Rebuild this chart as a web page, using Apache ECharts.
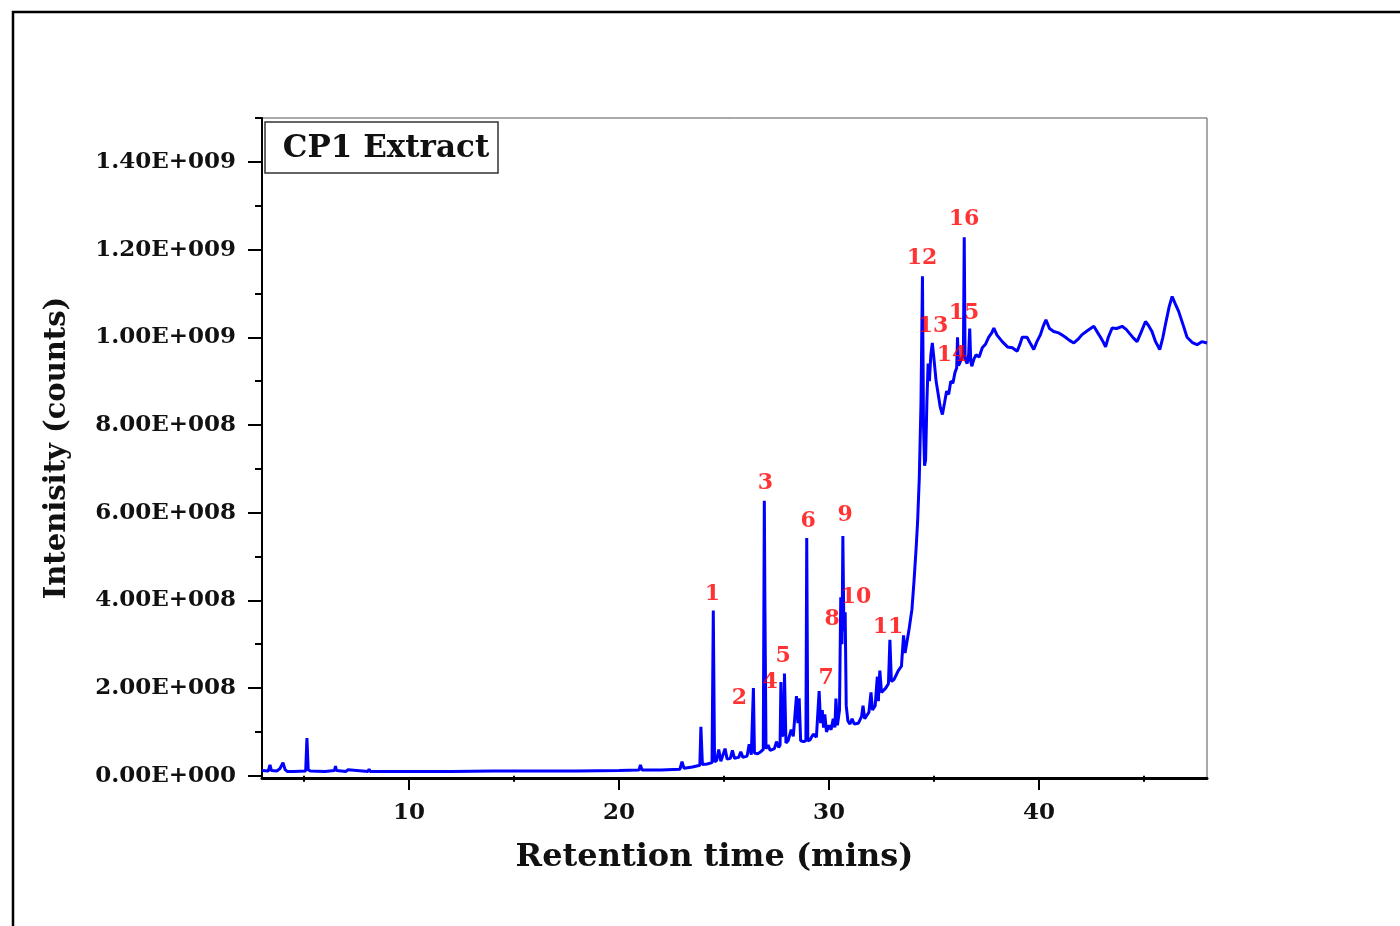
<!DOCTYPE html>
<html>
<head>
<meta charset="utf-8">
<script src="https://cdn.jsdelivr.net/npm/echarts@6/dist/echarts.min.js"></script>
<style>
html,body{margin:0;padding:0;background:#fff;}
#chart{width:1400px;height:926px;}
</style>
</head>
<body>
<div id="chart"></div>
<script>
// Retention time (min) and intensity (in millions of counts)
const chromatogram = [
[3.0,12],[3.3,11],[3.38,25],[3.45,12],[3.7,11],[3.85,16],[4.0,30],[4.05,34],[4.1,14],[4.2,10],
[4.5,10],[5.08,11],[5.14,86],[5.2,14],[5.3,11],[6.0,10],[6.45,12],[6.5,22],[6.55,12],[7.0,10],
[7.1,14],[7.15,10],[8.05,10],[8.1,15],[8.15,10],[8.55,10],[8.6,13],[8.65,10],[9.0,10],[10,10],
[12,10],[14,11],[16,11],[18,11],[20,12],[20.95,13],[21.02,25],[21.1,13],[22,13],[22.9,15],
[23.0,32],[23.1,17],[23.5,20],[23.85,24],[23.9,112],[23.97,26],[24.2,27],[24.43,30],[24.49,377],[24.55,32],
[24.65,35],[24.75,60],[24.85,33],[24.9,35],[25.05,62],[25.15,38],[25.3,40],[25.4,58],[25.5,40],[25.7,42],
[25.8,55],[25.9,42],[26.1,45],[26.2,72],[26.3,48],[26.36,50],[26.40,200],[26.45,52],[26.6,50],[26.75,55],
[26.87,60],[26.92,627],[26.95,380],[27.0,62],[27.1,70],[27.2,58],[27.4,62],[27.5,78],[27.6,65],[27.67,70],
[27.71,214],[27.76,90],[27.84,95],[27.88,233],[27.95,75],[28.05,80],[28.2,105],[28.3,90],[28.45,182],[28.52,120],
[28.58,177],[28.65,80],[28.8,78],[28.9,80],[28.94,542],[28.99,80],[29.1,82],[29.25,95],[29.4,88],[29.48,92],
[29.53,193],[29.6,120],[29.68,150],[29.74,110],[29.8,140],[29.88,100],[30.0,115],[30.1,105],[30.2,130],[30.28,110],
[30.33,176],[30.4,115],[30.5,150],[30.56,407],[30.62,300],[30.66,547],[30.71,330],[30.77,373],[30.82,160],[30.9,125],
[31.0,118],[31.1,130],[31.2,118],[31.4,120],[31.55,135],[31.62,160],[31.7,130],[31.9,145],[32.0,190],[32.07,150],
[32.2,160],[32.3,226],[32.35,170],[32.42,240],[32.5,190],[32.7,200],[32.83,210],[32.9,310],[32.97,215],[33.1,220],
[33.3,240],[33.45,250],[33.55,320],[33.62,280],[33.8,330],[33.95,380],[34.05,445],[34.15,520],[34.22,580],[34.3,680],
[34.38,850],[34.45,1139],[34.5,800],[34.55,707],[34.6,720],[34.66,850],[34.72,940],[34.78,900],[34.85,960],[34.92,987],
[35.0,950],[35.1,900],[35.2,870],[35.3,840],[35.4,824],[35.5,850],[35.6,877],[35.7,870],[35.8,900],[35.9,895],
[36.0,920],[36.08,930],[36.12,1000],[36.17,935],[36.3,950],[36.4,960],[36.44,1228],[36.48,950],[36.58,940],[36.65,960],
[36.7,1020],[36.75,945],[36.8,934],[36.9,950],[37.0,960],[37.15,955],[37.3,976],[37.45,984],[37.6,1000],[37.75,1010],
[37.85,1021],[38.0,1005],[38.25,990],[38.5,978],[38.73,976],[38.96,968],[39.1,985],[39.2,1000],[39.43,1000],[39.6,985],
[39.75,972],[39.9,990],[40.07,1006],[40.2,1025],[40.33,1040],[40.5,1020],[40.7,1013],[40.94,1010],[41.1,1005],[41.26,1000],
[41.45,993],[41.66,987],[41.85,995],[42.05,1006],[42.3,1015],[42.61,1025],[42.8,1010],[42.93,1000],[43.05,990],[43.17,978],
[43.3,1000],[43.48,1021],[43.7,1020],[43.96,1025],[44.15,1018],[44.36,1006],[44.5,998],[44.67,990],[44.85,1010],[45.07,1036],
[45.2,1028],[45.38,1013],[45.55,990],[45.75,972],[45.9,1000],[46.02,1029],[46.2,1070],[46.34,1093],[46.5,1075],[46.65,1059],
[46.85,1030],[47.05,1000],[47.3,988],[47.53,983],[47.75,990],[48.0,987]
];

// Peak labels: [label, retention time, intensity (millions) at label centre]
const peakLabels = [
['1',24.45,414],['2',25.73,177],['3',26.97,666],['4',27.20,214],['5',27.82,273],
['6',29.01,580],['7',29.87,223],['8',30.15,357],['9',30.77,595],['10',31.29,407],
['11',32.81,339],['12',34.43,1180],['13',34.95,1025],['14',35.86,959],['15',36.43,1055],['16',36.43,1270]
];

const xMajorTicks = [10,20,30,40];
const xMinorTicks = [5,15,25,35,45];
const yMajorTicks = [0,2e8,4e8,6e8,8e8,1e9,1.2e9,1.4e9];
const yMinorTicks = [1e8,3e8,5e8,7e8,9e8,1.1e9,1.3e9,1.5e9];

const FONT = 'DejaVu Serif';

function sci(v){
  if (v === 0) return '0.00E+000';
  const e = Math.floor(Math.log10(Math.abs(v)) + 1e-9);
  const m = v / Math.pow(10, e);
  return m.toFixed(2) + 'E+' + String(e).padStart(3,'0');
}

const chart = echarts.init(document.getElementById('chart'), null, {renderer:'canvas'});
const option = {
  backgroundColor:'#ffffff',
  animation:false,
  grid:{left:262, top:118, width:945, height:660, show:true, borderColor:'#555', borderWidth:1, backgroundColor:'transparent'},
  xAxis:[{
    type:'value', min:3, max:48, gridIndex:0,
    name:'Retention time (mins)', nameLocation:'middle', nameGap:64,
    nameTextStyle:{fontFamily:FONT, fontWeight:'bold', fontSize:32, color:'#111', padding:[0,40,0,0]},
    axisLine:{show:true, onZero:false, lineStyle:{color:'#000', width:3}},
    axisTick:{show:true, inside:false, length:12, lineStyle:{color:'#000', width:2}, customValues:xMajorTicks},
    axisLabel:{show:true, margin:24, fontFamily:FONT, fontWeight:'bold', fontSize:23, color:'#111', customValues:xMajorTicks},
    splitLine:{show:false}
  },{
    type:'value', min:3, max:48, gridIndex:0, position:'bottom',
    axisLine:{show:false},
    axisTick:{show:true, inside:false, length:6, lineStyle:{color:'#000', width:2}, customValues:xMinorTicks},
    axisLabel:{show:false},
    splitLine:{show:false}
  }],
  yAxis:[{
    type:'value', min:-5e6, max:1.5e9, gridIndex:0,
    name:'Intenisity (counts)', nameLocation:'middle', nameGap:190, nameRotate:90,
    nameTextStyle:{fontFamily:FONT, fontWeight:'bold', fontSize:29, color:'#111'},
    axisLine:{show:true, onZero:false, lineStyle:{color:'#000', width:2}},
    axisTick:{show:true, inside:false, length:14, lineStyle:{color:'#000', width:2}, customValues:yMajorTicks},
    axisLabel:{show:true, margin:26, fontFamily:FONT, fontWeight:'bold', fontSize:23, color:'#111', customValues:yMajorTicks, formatter:sci},
    splitLine:{show:false}
  },{
    type:'value', min:-5e6, max:1.5e9, gridIndex:0, position:'left',
    axisLine:{show:false},
    axisTick:{show:true, inside:false, length:7, lineStyle:{color:'#000', width:2}, customValues:yMinorTicks},
    axisLabel:{show:false},
    splitLine:{show:false}
  }],
  series:[{
    type:'line', xAxisIndex:0, yAxisIndex:0,
    data: chromatogram.map(p => [p[0], p[1]*1e6]),
    showSymbol:false, symbol:'none', sampling:'none', smooth:false,
    lineStyle:{color:'#0000ff', width:3}, z:3
  },{
    type:'scatter', xAxisIndex:0, yAxisIndex:0,
    data: peakLabels.map(p => [p[1], p[2]*1e6, p[0]]),
    symbolSize:0, silent:true, z:5,
    label:{show:true, position:'inside', formatter:p => p.data[2],
      fontFamily:FONT, fontWeight:'bold', fontSize:22, color:'#ff0000'}
  }],
  graphic:[
    {type:'rect', shape:{x:13, y:12, width:1420, height:940}, style:{fill:'none', stroke:'#000', lineWidth:2.5}, z:10},
    {type:'rect', shape:{x:265, y:122, width:233, height:51}, style:{fill:'#fff', stroke:'#333', lineWidth:1.5}, z:10},
    {type:'text', x:386, y:149, style:{text:'CP1 Extract', fontFamily:FONT, fontWeight:'bold', fontSize:31, fill:'#111', align:'center', verticalAlign:'middle'}, z:11}
  ]
};
chart.setOption(option);
</script>
</body>
</html>
